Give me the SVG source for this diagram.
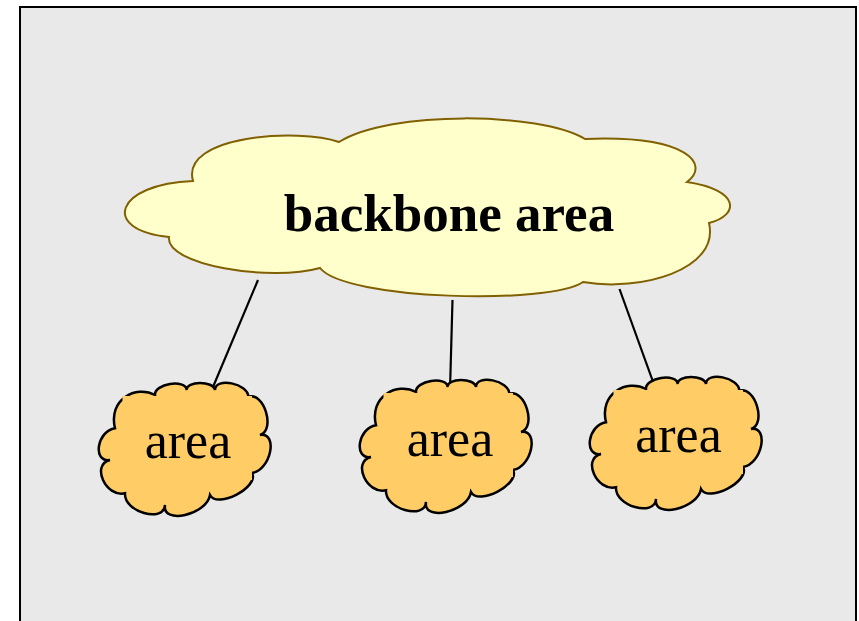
<svg xmlns="http://www.w3.org/2000/svg" xmlns:xlink="http://www.w3.org/1999/xlink" width="859" height="621" viewBox="0 0 859 621">
<style>
.frame{fill:#e9e9e9;stroke:#000;stroke-width:2}
.bb{fill:#ffffcc;stroke:#806000;stroke-width:2}
.sc{fill:#ffcc66;stroke:#000;stroke-width:2.5}
.patch{fill:#ffcc66;stroke:none}
.conn line{stroke:#000;stroke-width:2.2}
.t{font-family:"Liberation Serif","Times New Roman",serif;font-size:52px;fill:#000;text-anchor:middle}
.tb{font-weight:bold;font-size:53px}
</style>
<defs>
<g id="smallcloud">
<path class="sc" d="M -69,-20.7 C -76,-50 -48,-64 -29,-54 C -30.1,-65.3 1.6,-70.3 2.7,-59 C 1.6,-68.3 29.9,-68.3 31,-59 C 31,-72.3 64.3,-65.6 64.3,-52.3 C 80.1,-57.4 91.8,-19.1 76,-14 C 94.7,-16.7 86.7,21.3 68,24 C 75.5,38.1 33.5,60.1 26,46 C 22.7,66 -22.3,76 -19,56 C -20.3,74.5 -60.3,62.8 -59,44.3 C -78.3,48.8 -93.3,15.5 -74,11 C -92,13.5 -87,-18.2 -69,-20.7 Z"/>
<rect class="patch" x="-61.5" y="-53" width="129.5" height="84"/>
</g>
</defs>
<rect width="859" height="621" fill="#ffffff"/>
<rect id="frame" class="frame" x="20" y="7" width="836" height="630"/>
<g id="connectors" class="conn">
<line x1="258" y1="280" x2="213" y2="387"/>
<line x1="452.5" y1="300" x2="450" y2="390"/>
<line x1="619.5" y1="289" x2="656" y2="390"/>
</g>
<g id="backbone">
<path class="bb" d="M 193,181 C 115,184 100,230 169,237 C 165,265 270,282 320,268 C 345,300 550,305 583,282 C 640,292 720,270 709,223 C 740,215 740,190 687,182 C 710,165 690,135 585,139 C 540,112 390,110 339,142 C 300,128 180,135 193,181 Z"/>
<text class="t tb" x="449" y="231">backbone area</text>
</g>
<g id="area1">
<use xlink:href="#smallcloud" href="#smallcloud" transform="translate(184,449)"/>
<text class="t" x="188" y="458">area</text>
</g>
<g id="area2">
<use xlink:href="#smallcloud" href="#smallcloud" transform="translate(445,446)"/>
<text class="t" x="450" y="456">area</text>
</g>
<g id="area3">
<use xlink:href="#smallcloud" href="#smallcloud" transform="translate(675,443)"/>
<text class="t" x="678.5" y="452">area</text>
</g>
</svg>
